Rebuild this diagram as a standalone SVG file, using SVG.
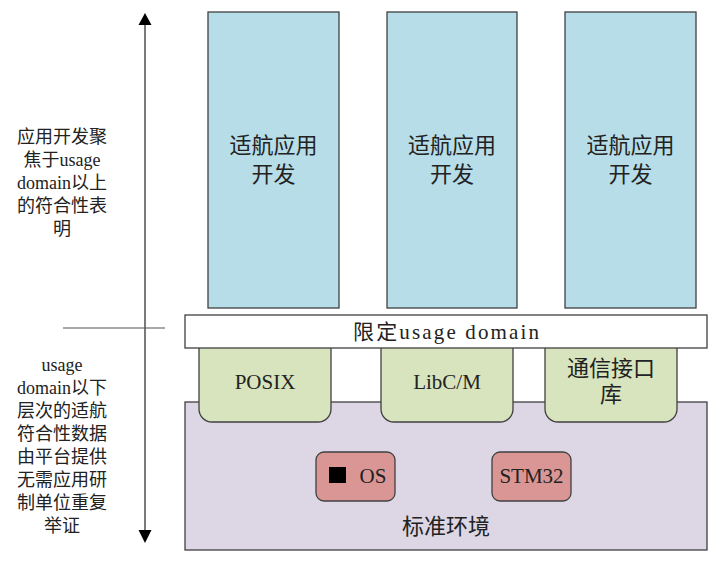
<svg xmlns="http://www.w3.org/2000/svg" width="720" height="561" viewBox="0 0 720 561">
<style>
text{font-family:"Liberation Serif","Noto Sans CJK SC",serif;fill:#222;text-anchor:middle}
.app{fill:#b7dde8;stroke:#404040;stroke-width:1.3}
.lib{fill:#d7e4bd;stroke:#404040;stroke-width:1.3}
.chip{fill:#d99694;stroke:#404040;stroke-width:1.3}
.t22{font-size:22px}
.t20{font-size:21px}
.t18{font-size:18px}
</style>
<rect width="720" height="561" fill="#fff"/>
<g id="apps">
<g id="app1"><rect class="app" x="208" y="12" width="131" height="296"/><text class="t22" x="273.5" y="153">适航应用</text><text class="t22" x="273.5" y="182">开发</text></g>
<g id="app2"><rect class="app" x="387" y="12" width="130" height="296"/><text class="t22" x="452" y="153">适航应用</text><text class="t22" x="452" y="182">开发</text></g>
<g id="app3"><rect class="app" x="565" y="12" width="131" height="296"/><text class="t22" x="630.5" y="153">适航应用</text><text class="t22" x="630.5" y="182">开发</text></g>
</g>
<g id="env">
<rect x="185" y="402" width="522" height="148" fill="#ddd6e4" stroke="#404040" stroke-width="1.3"/>
<text class="t22" x="446" y="534">标准环境</text>
</g>
<g id="os">
<rect class="chip" x="316" y="452" width="79" height="49" rx="8"/>
<rect x="329" y="467" width="17" height="16" fill="#000"/>
<text class="t20" x="373" y="483">OS</text>
</g>
<g id="stm32">
<rect class="chip" x="492" y="452" width="79" height="49" rx="8"/>
<text class="t20" x="531.5" y="483">STM32</text>
</g>
<g id="posix"><rect class="lib" x="199" y="330" width="132" height="92" rx="13"/><text class="t20" x="265" y="389">POSIX</text></g>
<g id="libc"><rect class="lib" x="381" y="330" width="132" height="92" rx="13"/><text class="t20" x="447" y="389">LibC/M</text></g>
<g id="comm"><rect class="lib" x="545" y="330" width="132" height="92" rx="13"/><text class="t22" x="611" y="376">通信接口</text><text class="t22" x="611" y="402">库</text></g>
<g id="domain">
<rect x="185" y="315" width="522" height="33" fill="#fff" stroke="#404040" stroke-width="1.3"/>
<text class="t20" x="446" y="339" textLength="186" lengthAdjust="spacing">限定usage domain</text>
</g>
<g id="connectors" stroke="#222" stroke-width="1.2">
<line x1="145" y1="24" x2="145" y2="531"/>
<polygon points="145,13 138.5,25 151.5,25" fill="#000" stroke="none"/>
<polygon points="145,543 138.5,530 151.5,530" fill="#000" stroke="none"/>
<line x1="63" y1="328" x2="165" y2="328" stroke="#555"/>
</g>
<g id="upper-label" class="t18">
<text x="62" y="143">应用开发聚</text>
<text x="62" y="166">焦于usage</text>
<text x="62" y="189">domain以上</text>
<text x="62" y="212">的符合性表</text>
<text x="62" y="235">明</text>
</g>
<g id="lower-label" class="t18">
<text x="62" y="371">usage</text>
<text x="62" y="394">domain以下</text>
<text x="62" y="417">层次的适航</text>
<text x="62" y="440">符合性数据</text>
<text x="62" y="463">由平台提供</text>
<text x="62" y="486">无需应用研</text>
<text x="62" y="509">制单位重复</text>
<text x="62" y="532">举证</text>
</g>
</svg>
